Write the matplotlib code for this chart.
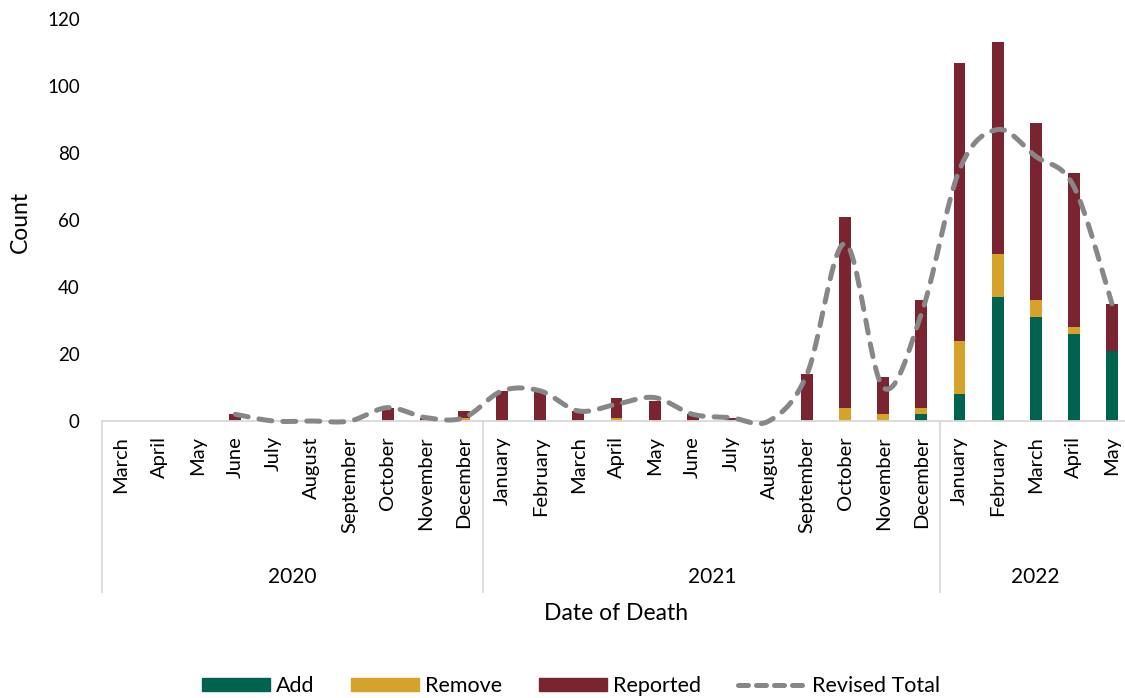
import matplotlib
matplotlib.use("Agg")
import matplotlib.pyplot as plt
import matplotlib.transforms as mtransforms
from matplotlib.patches import Patch
from matplotlib.lines import Line2D
import numpy as np

plt.rcParams['font.family'] = ['Lato', 'DejaVu Sans']

months = ["March", "April", "May", "June", "July", "August", "September", "October",
          "November", "December",
          "January", "February", "March", "April", "May", "June", "July", "August",
          "September", "October", "November", "December",
          "January", "February", "March", "April", "May"]
years = ["2020", "2021", "2022"]
year_counts = [10, 12, 5]

add = [0, 0, 0, 0, 0, 0, 0, 0, 0, 0,
       0, 0, 0, 0, 0, 0, 0, 0, 0, 0, 0, 2,
       8, 37, 31, 26, 21]
remove = [0, 0, 0, 0, 0, 0, 0, 0, 0, 1,
          0, 0, 0, 1, 0, 0, 0, 0, 0, 4, 2, 2,
          16, 13, 5, 2, 0]
reported = [0, 0, 0, 2, 0, 0, 0, 4, 1, 2,
            9, 9, 3, 6, 6, 2, 1, 0, 14, 57, 11, 32,
            83, 63, 53, 46, 14]
revised_total = [None, None, None, 2, 0, 0, 0, 4, 1, 1,
                 9, 9, 3, 5, 7, 2, 1, 0, 14, 53, 10, 32,
                 75, 87, 79, 70, 35]

C_ADD = "#00634F"
C_REM = "#D5A32B"
C_REP = "#7B2431"
C_LINE = "#878787"

W, H = 1125, 698
fig = plt.figure(figsize=(W / 100, H / 100), dpi=100)
left, right, bottom, top = 102, 1131, 421, 19
ax = fig.add_axes([left / W, (H - bottom) / H, (right - left) / W, (bottom - top) / H])

x = np.arange(len(months))
bw = 0.31
ax.bar(x, add, bw, color=C_ADD, label="Add", zorder=2)
ax.bar(x, remove, bw, bottom=add, color=C_REM, label="Remove", zorder=2)
base2 = [a + r for a, r in zip(add, remove)]
ax.bar(x, reported, bw, bottom=base2, color=C_REP, label="Reported", zorder=2)

# smoothed line (Catmull-Rom style Bezier through the data points)
pts = [(xi, v) for xi, v in zip(x, revised_total) if v is not None]
P = np.array(pts, float)
P_ext = np.vstack([P[0], P, P[-1]])
seg = []
tt = np.linspace(0, 1, 24)[:, None]
k = 1 / 6.0
for i in range(1, len(P_ext) - 2):
    p0, p1, p2, p3 = P_ext[i - 1], P_ext[i], P_ext[i + 1], P_ext[i + 2]
    c1 = p1 + (p2 - p0) * k
    c2 = p2 - (p3 - p1) * k
    b = ((1 - tt) ** 3) * p1 + 3 * ((1 - tt) ** 2) * tt * c1 + 3 * (1 - tt) * tt ** 2 * c2 + tt ** 3 * p2
    seg.append(b if i == 1 else b[1:])
curve = np.vstack(seg)
ax.plot(curve[:, 0], curve[:, 1], color=C_LINE, lw=3.6, dashes=(2.6, 2.2),
        dash_capstyle="round", zorder=3, clip_on=False)

ax.set_xlim(-0.5, len(months) - 0.5)
ax.set_ylim(0, 120)
ax.set_yticks(range(0, 121, 20))
ax.tick_params(axis="y", length=0, pad=16, labelsize=13.5)
ax.set_xticks(x)
ax.set_xticklabels(months, rotation=90, va="top", ha="center")
ax.tick_params(axis="x", length=0, pad=11, labelsize=14.5)
for s in ["top", "right", "left"]:
    ax.spines[s].set_visible(False)
ax.spines["bottom"].set_color("#D9D9D9")
ax.spines["bottom"].set_linewidth(1.3)

trans = mtransforms.blended_transform_factory(ax.transData, ax.transAxes)
ylow = (bottom - 592) / (bottom - top)
yyear = (bottom - 577) / (bottom - top)
start = 0
bounds = [-0.5]
for yr, n in zip(years, year_counts):
    ax.text(start + (n - 1) / 2, yyear, yr, transform=trans, ha="center", va="center",
            fontsize=15)
    start += n
    bounds.append(start - 0.5)
for b in bounds:
    ax.plot([b, b], [0, ylow], transform=trans, color="#D9D9D9", lw=1.3, clip_on=False)

fig.text(616 / W, (H - 614) / H, "Date of Death", ha="center", va="center", fontsize=16.5)
fig.text(20 / W, (H - 222) / H, "Count", ha="center", va="center", rotation=90, fontsize=16.5)

handles = [Patch(color=C_ADD, label="Add"), Patch(color=C_REM, label="Remove"),
           Patch(color=C_REP, label="Reported"),
           Line2D([], [], color=C_LINE, lw=3.6, dashes=(2.0, 1.6), dash_capstyle="round",
                  label="Revised Total")]
fig.legend(handles=handles, loc="center", bbox_to_anchor=(571 / W, (H - 686) / H), ncol=4,
           frameon=False, fontsize=15.5, handlelength=3.15, handleheight=0.55,
           handletextpad=0.3, columnspacing=1.7)

fig.savefig("out.png", dpi=100)
